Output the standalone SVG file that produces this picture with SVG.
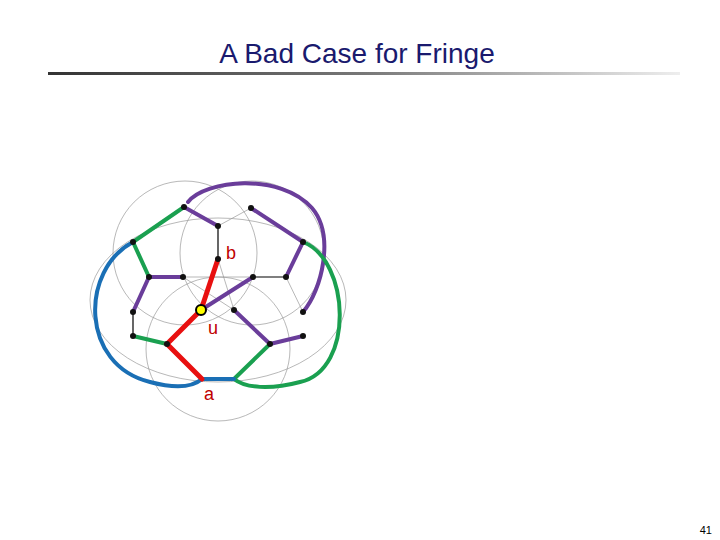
<svg xmlns="http://www.w3.org/2000/svg" width="720" height="540" viewBox="0 0 720 540">
<defs><linearGradient id="g" x1="0" x2="1"><stop offset="0" stop-color="#333"/><stop offset="0.5" stop-color="#777"/><stop offset="1" stop-color="#eee"/></linearGradient>
<style>
.t{fill:none;stroke:#999;stroke-width:0.7}.k{stroke:#000;stroke-width:1.2;fill:none}
.p{stroke:#6a3d9a;stroke-width:4;fill:none;stroke-linecap:round}.gr{stroke:#1aa050;stroke-width:4;fill:none;stroke-linecap:round}
.b{stroke:#1a6fb5;stroke-width:4;fill:none;stroke-linecap:round}.r{stroke:#e81010;stroke-width:5;fill:none;stroke-linecap:round}
.n{fill:#111}.l{font-family:"Liberation Sans",Arial,sans-serif;font-size:18px;fill:#c00000}
</style></defs>
<rect width="720" height="540" fill="#fff"/>
<text x="357" y="63" text-anchor="middle" font-family="Liberation Sans,Arial,sans-serif" font-size="28" fill="#1a1a6e">A Bad Case for Fringe</text>
<rect x="48" y="72" width="632" height="3" fill="url(#g)"/>
<text x="712" y="534" text-anchor="end" font-family="Liberation Sans,Arial,sans-serif" font-size="11">41</text>
<g id="connectors">
<circle class="t" cx="185" cy="253" r="72"/>
<circle class="t" cx="252" cy="253" r="72"/>
<circle class="t" cx="218" cy="349" r="72"/>
<ellipse class="t" cx="218" cy="300" rx="128" ry="82"/>
<line class="k" x1="218" y1="226" x2="218" y2="259"/>
<line class="t" x1="218" y1="226" x2="251" y2="208"/>
<line class="t" x1="183" y1="277" x2="253" y2="277"/>
<line class="k" x1="253" y1="277" x2="286" y2="277"/>
<line class="k" x1="133" y1="312" x2="133" y2="336"/>
<line class="t" x1="183" y1="277" x2="234" y2="310"/>
<line class="t" x1="218" y1="259" x2="234" y2="310"/>
<line class="t" x1="286" y1="277" x2="303" y2="312"/>
<polyline class="p" points="184,207 218,226"/>
<polyline class="p" points="251,208 303,242 286,277"/>
<polyline class="p" points="183,277 149,277 133,312"/>
<line class="p" x1="201" y1="310" x2="253" y2="277"/>
<polyline class="p" points="234,310 270,344 303,336"/>
<path class="p" d="M188,202 C205,180 280,172 312,208 C335,235 322,290 303,312"/>
<polyline class="gr" points="184,207 133,242 149,277"/>
<line class="gr" x1="133" y1="336" x2="167" y2="344"/>
<line class="gr" x1="270" y1="344" x2="234" y2="379"/>
<path class="gr" d="M303,242 C350,260 355,370 300,382 C270,390 245,388 234,379"/>
<path class="b" d="M133,242 C80,270 80,365 150,382 C180,390 195,385 202,379"/>
<line class="b" x1="202" y1="379" x2="234" y2="379"/>
<polyline class="r" points="218,259 201,310 167,344 202,379"/>
</g>
<g id="nodes">
<g class="n"><circle cx="184" cy="207" r="3"/><circle cx="218" cy="226" r="3"/><circle cx="251" cy="208" r="3"/><circle cx="133" cy="242" r="3"/><circle cx="303" cy="242" r="3"/><circle cx="218" cy="259" r="3"/><circle cx="149" cy="277" r="3"/><circle cx="183" cy="277" r="3"/><circle cx="253" cy="277" r="3"/><circle cx="286" cy="277" r="3"/><circle cx="133" cy="312" r="3"/><circle cx="303" cy="312" r="3"/><circle cx="234" cy="310" r="3"/><circle cx="133" cy="336" r="3"/><circle cx="303" cy="336" r="3"/><circle cx="167" cy="344" r="3"/><circle cx="270" cy="344" r="3"/></g>
<circle id="u" cx="201" cy="310" r="5" fill="#ff0" stroke="#000" stroke-width="2"/>
<text class="l" x="226" y="259">b</text>
<text class="l" x="208" y="334">u</text>
<text class="l" x="204" y="400">a</text>
</g>
</svg>
